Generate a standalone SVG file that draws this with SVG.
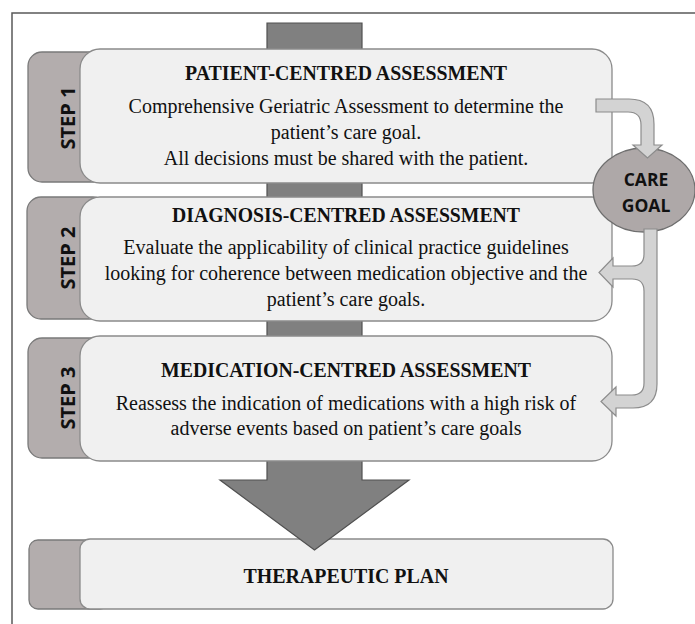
<svg xmlns="http://www.w3.org/2000/svg" width="695" height="624" viewBox="0 0 695 624">
<style>
.tab{fill:#b3adad;stroke:#7a7a7a;stroke-width:1.3}
.box{fill:#f0f0f0;stroke:#8a8a8a;stroke-width:1.3}
.title{font-family:"Liberation Serif","Times New Roman",serif;font-weight:bold;font-size:20.5px;fill:#111;text-anchor:middle}
.body{font-family:"Liberation Serif","Times New Roman",serif;font-size:20px;fill:#111;text-anchor:middle}
.step{font-family:"Open Sans","Liberation Sans",sans-serif;font-weight:bold;font-size:20px;fill:#111;text-anchor:middle}
.goal{font-family:"Open Sans","Liberation Sans",sans-serif;font-weight:bold;font-size:17.5px;fill:#111;text-anchor:middle}
.conn{fill:#d3d3d3;stroke:#8c8c8c;stroke-width:1.2;stroke-linejoin:miter}
</style>
<rect width="695" height="624" fill="#ffffff"/>
<path d="M12,624 V13 H695" fill="none" stroke="#5a5a5a" stroke-width="1.5"/>

<g id="therapeutic-plan">
<rect class="tab" x="29" y="540" width="80" height="69" rx="9"/>
<rect class="box" x="80" y="539" width="533" height="70" rx="10"/>
<text class="title" x="346" y="583" textLength="205" lengthAdjust="spacingAndGlyphs">THERAPEUTIC PLAN</text>
</g>

<g id="main-flow">
<polygon points="267,23 362,23 362,480 409,480 314.5,550 220,480 267,480" fill="#808080" stroke="#505050" stroke-width="1.2"/>
</g>

<g id="step1">
<rect class="tab" x="28" y="52" width="80" height="130" rx="14"/>
<rect class="box" x="80" y="49" width="532" height="134" rx="20"/>
<text class="step" transform="translate(75,118) rotate(-90)">STEP 1</text>
<text class="title" x="346" y="80" textLength="322" lengthAdjust="spacingAndGlyphs">PATIENT-CENTRED ASSESSMENT</text>
<text class="body" x="346" y="113">Comprehensive Geriatric Assessment to determine the</text>
<text class="body" x="346" y="139">patient’s care goal.</text>
<text class="body" x="346" y="165">All decisions must be shared with the patient.</text>
</g>

<g id="step2">
<rect class="tab" x="27" y="197" width="80" height="122" rx="14"/>
<rect class="box" x="80" y="197" width="532" height="124" rx="20"/>
<text class="step" transform="translate(75,258) rotate(-90)">STEP 2</text>
<text class="title" x="346" y="222" textLength="348" lengthAdjust="spacingAndGlyphs">DIAGNOSIS-CENTRED ASSESSMENT</text>
<text class="body" x="346" y="254">Evaluate the applicability of clinical practice guidelines</text>
<text class="body" x="346" y="280">looking for coherence between medication objective and the</text>
<text class="body" x="346" y="306">patient’s care goals.</text>
</g>

<g id="step3">
<rect class="tab" x="28" y="338" width="80" height="120" rx="14"/>
<rect class="box" x="80" y="336" width="532" height="125" rx="20"/>
<text class="step" transform="translate(75,398) rotate(-90)">STEP 3</text>
<text class="title" x="346" y="377" textLength="370" lengthAdjust="spacingAndGlyphs">MEDICATION-CENTRED ASSESSMENT</text>
<text class="body" x="346" y="410">Reassess the indication of medications with a high risk of</text>
<text class="body" x="346" y="435">adverse events based on patient’s care goals</text>
</g>

<g id="care-goal">
<ellipse cx="644" cy="190" rx="51" ry="42" fill="#aea8a8" stroke="#6e6e6e" stroke-width="1.3"/>
<text class="goal" x="646" y="186">CARE</text>
<text class="goal" x="646" y="212">GOAL</text>
</g>

<g id="connectors">
<path class="conn" d="M596,99 H629 Q654,99 654,124 V145 H662 L647.5,158 L633,145 H641 V125 Q641,112 628,112 H596 Z"/>
<path class="conn" d="M644,229 H657 V384 Q657,408 633,408 H616 V416 L601,401.5 L616,387 V395 H632 Q644,395 644,383 V291 Q644,279 632,279 H613 V287 L599,272.5 L613,258 V266 H632 Q644,266 644,254 Z"/>
</g>
</svg>
